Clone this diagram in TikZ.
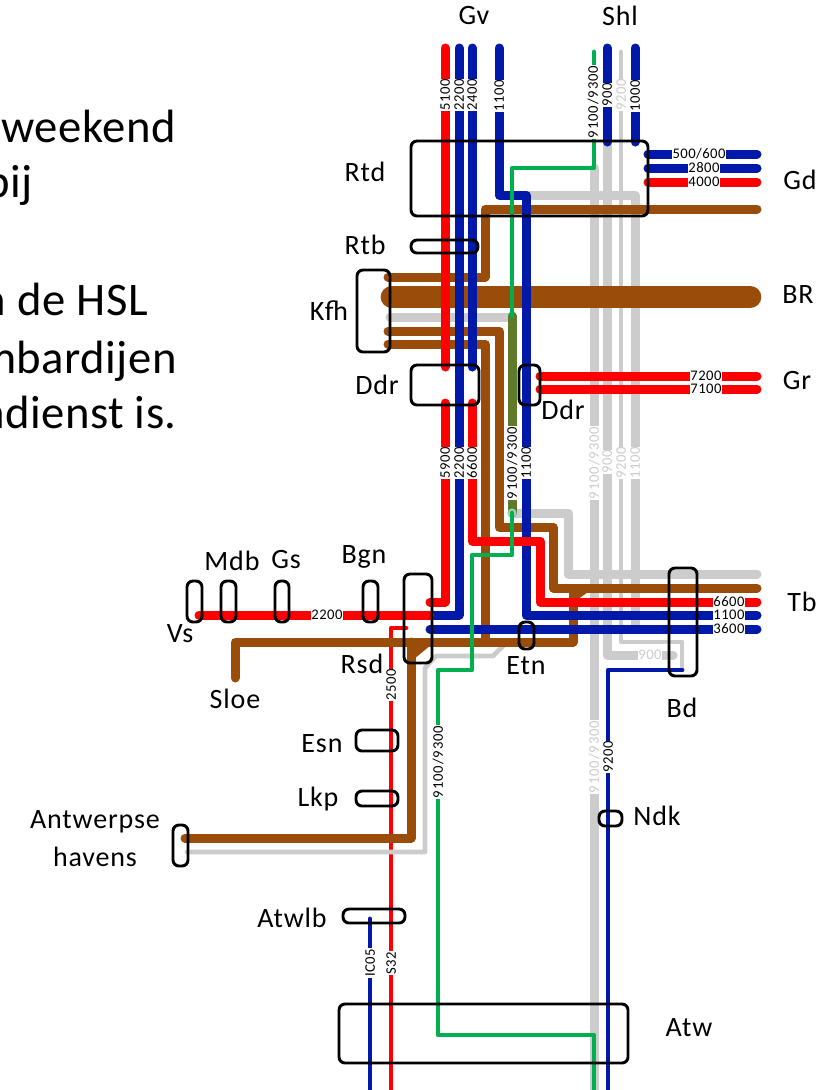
\documentclass[tikz,border=0pt]{standalone}
\usepackage{fontspec}
\setmainfont{Carlito}
\newfontfamily\labfont[LetterSpace=3]{Carlito}
\newfontfamily\labwidefont[LetterSpace=6]{Carlito}
\newfontfamily\namefont[LetterSpace=3]{Carlito}
\newfontfamily\sidefont[LetterSpace=1]{Carlito}
\definecolor{tred}{HTML}{FF0000}
\definecolor{tblue}{HTML}{0019A8}
\definecolor{tbrown}{HTML}{9A4D0B}
\definecolor{tgrey}{HTML}{CCCCCC}
\definecolor{tgreen}{HTML}{00B050}
\definecolor{tolive}{HTML}{5F7A2B}
\tikzset{
  route/.style={line width=6.75pt,line cap=round,line join=round},
  thinroute/.style={line width=3.6pt,line cap=round,line join=round},
  redr/.style={route,draw=tred},
  bluer/.style={route,draw=tblue},
  brownr/.style={route,draw=tbrown},
  greyr/.style={route,draw=tgrey},
  station/.style={draw=black,line width=2.2pt,rounded corners=4.5pt,fill=none,inner sep=0pt},
  bigtxt/.style={font=\namefont\fontsize{21}{21}\selectfont,inner sep=0pt},
  sidetxt/.style={font=\sidefont\fontsize{35}{35}\selectfont,inner sep=0pt,anchor=base east},
  vlab/.style={rotate=90,fill=white,inner xsep=0.6pt,inner ysep=0pt,text height=7.6pt,text depth=0.4pt,minimum height=8pt,font=\labfont\fontsize{11}{11}\selectfont},
  vwide/.style={vlab,font=\labwidefont\fontsize{11}{11}\selectfont},
  hlab/.style={fill=white,inner xsep=0.6pt,inner ysep=0pt,text height=7.6pt,text depth=0.4pt,minimum height=8pt,font=\labfont\fontsize{11}{11}\selectfont},
  glab/.style={text=tgrey},
}
\newcommand{\stationbox}[5]{\node[station,minimum width=#4*0.75pt,minimum height=#5*0.75pt] (#1) at (#2,#3) {};}
\begin{document}
\begin{tikzpicture}[x=0.75pt,y=-0.75pt]
\useasboundingbox (0,0) rectangle (838,1090);
% thin red S32, under everything
\draw[thinroute,draw=tred] (406,628) -- (391,628) -- (391,1094);
\draw[thinroute,draw=tblue] (370,919) -- (370,1094);
% grey routes
\draw[greyr] (594,168) -- (594,1094);
\draw[greyr] (607,142) -- (607,655) -- (673,655);
\draw[thinroute,draw=tgrey] (621,52) -- (621,642) -- (682,642) -- (682,670);
\draw[greyr] (526,195) -- (635,195) -- (635,629);
\draw[greyr] (390,317) -- (512,317);
\draw[greyr] (512,513) -- (568,513) -- (568,574) -- (757,574);
\draw[thinroute,draw=tgrey] (506,643) -- (493,656) -- (436,656) -- (425,668) -- (425,852) -- (187,852);
% brown routes
\draw[line width=17pt,line cap=round,draw=tbrown] (392,297) -- (750,297);
\draw[brownr] (757,209) -- (485,209) -- (485,277) -- (388,277);
\draw[brownr] (388,331) -- (499,331) -- (499,527) -- (553,527) -- (553,588) -- (757,588);
\draw[brownr] (388,344) -- (485,344) -- (485,642);
\draw[brownr] (235,678) -- (235,642) -- (573,642) -- (573,592);
\draw[brownr] (411,642) -- (411,838) -- (185,838);
\fill[tbrown] (577,592) -- (588,592) -- (577,600) -- cycle;
\fill[tbrown] (414,645) -- (431,645) -- (414,659) -- cycle;
% olive
\draw[route,draw=tolive] (512,316) -- (512,513);
\fill[tgrey!60!tgreen!70!white] (512,513) circle[radius=3.4pt];
% blue
\draw[bluer] (459,48) -- (459,615) -- (430,615);
\draw[bluer] (472,48) -- (472,367);
\draw[bluer] (499,48) -- (499,195) -- (526,195) -- (526,615) -- (757,615);
\draw[bluer] (607,48) -- (607,142);
\draw[bluer] (635,48) -- (635,142);
\draw[bluer] (430,629) -- (757,629);
\draw[bluer] (648,154) -- (757,154);
\draw[bluer] (648,168) -- (757,168);
\draw[thinroute,draw=tblue] (682,670) -- (608,670) -- (608,1094);
% red
\draw[redr] (445,48) -- (445,367);
\draw[redr] (445,403) -- (445,602) -- (430,602);
\draw[redr] (199,615) -- (430,615);
\draw[redr] (472,403) -- (472,541) -- (540,541) -- (540,602) -- (757,602);
\draw[redr] (648,182) -- (757,182);
\draw[redr] (540,376) -- (757,376);
\draw[redr] (540,389) -- (757,389);
% green
\draw[thinroute,draw=tgreen] (594,52) -- (594,168) -- (512,168) -- (512,316);
\draw[thinroute,draw=tgreen] (512,513) -- (512,555) -- (472,555) -- (472,670) -- (438,670) -- (438,1035) -- (594,1035) -- (594,1094);
% line labels
\node[vlab] (l5100) at (445,95) {5100};
\node[vlab] (l2200a) at (459,95) {2200};
\node[vlab] (l2400) at (472,95) {2400};
\node[vlab] (l1100a) at (499,96) {1100};
\node[vwide] (l9193a) at (593,102) {9100/9300};
\node[vlab] (l900a) at (607,95) {900};
\node[vlab,glab] (l9200a) at (621,95) {9200};
\node[vlab] (l1000) at (635,96) {1000};
\node[hlab] (l500) at (699,154) {500/600};
\node[hlab] (l2800) at (704,168) {2800};
\node[hlab] (l4000) at (704,182) {4000};
\node[hlab] (l7200) at (706,376) {7200};
\node[hlab] (l7100) at (706,389) {7100};
\node[vlab] (l5900) at (445,463) {5900};
\node[vlab] (l2200b) at (459,463) {2200};
\node[vlab] (l6600a) at (472,463) {6600};
\node[vwide] (l9193b) at (512,463) {9100/9300};
\node[vlab] (l1100b) at (526,463) {1100};
\node[vwide,glab] (l9193c) at (594,463) {9100/9300};
\node[vlab,glab] (l900b) at (607,462) {900};
\node[vlab,glab] (l9200b) at (621,463) {9200};
\node[vlab,glab] (l1100c) at (635,463) {1100};
\node[hlab] (l2200c) at (327,615) {2200};
\node[hlab] (l6600b) at (729,602) {6600};
\node[hlab] (l1100d) at (729,615) {1100};
\node[hlab] (l3600) at (729,629) {3600};
\node[hlab,glab] (l900c) at (650,655) {900};
\node[vlab] (l2500) at (391,685) {2500};
\node[vwide] (l9193d) at (438,762) {9100/9300};
\node[vlab] (l9200c) at (608,757) {9200};
\node[vwide,glab] (l9193e) at (594,757) {9100/9300};
\node[vlab] (lic) at (370,963) {IC05};
\node[vlab] (ls32) at (391,963) {S32};
% station boxes
\stationbox{bRtd}{529.5}{178.5}{237}{75}
\stationbox{bRtb}{444.5}{246.5}{67}{13}
\stationbox{bKfh}{373.5}{311}{33}{82}
\stationbox{bDdra}{445}{385}{68}{40}
\stationbox{bDdrb}{529.5}{385}{21}{40}
\stationbox{bVs}{194.5}{601.5}{15}{41}
\stationbox{bMdb}{228.5}{601.5}{15}{41}
\stationbox{bGs}{282}{601.5}{14}{41}
\stationbox{bBgn}{370.5}{601.5}{15}{41}
\stationbox{bRsd}{418}{618.5}{28}{89}
\stationbox{bEtn}{526.5}{635.5}{15}{27}
\stationbox{bBd}{683}{622}{28}{108}
\stationbox{bEsn}{377}{740.5}{42}{21}
\stationbox{bLkp}{377}{798.5}{42}{15}
\stationbox{bAnt}{180.5}{845.5}{15}{41}
\stationbox{bAtwlb}{374}{916}{62}{14}
\stationbox{bAtw}{483.5}{1033.5}{289}{59}
\stationbox{bNdk}{610.5}{818.5}{23}{15}
% place names
\node[bigtxt] (tGv) at (474,16) {Gv};
\node[bigtxt] (tShl) at (620,16) {Shl};
\node[bigtxt] (tRtd) at (365,172) {Rtd};
\node[bigtxt] (tRtb) at (365,245) {Rtb};
\node[bigtxt] (tKfh) at (329,311) {Kfh};
\node[bigtxt] (tDdra) at (377,385) {Ddr};
\node[bigtxt] (tDdrb) at (563,410) {Ddr};
\node[bigtxt] (tGd) at (800,180) {Gd};
\node[bigtxt] (tBR) at (798,295) {BR};
\node[bigtxt] (tGr) at (797,381) {Gr};
\node[bigtxt] (tTb) at (802,602) {Tb};
\node[bigtxt] (tBd) at (682,708) {Bd};
\node[bigtxt] (tEtn) at (526,666) {Etn};
\node[bigtxt] (tRsd) at (362,664) {Rsd};
\node[bigtxt] (tBgn) at (364,557) {Bgn};
\node[bigtxt] (tMdb) at (232,561) {Mdb};
\node[bigtxt] (tGs) at (286,560) {Gs};
\node[bigtxt] (tVs) at (180,634) {Vs};
\node[bigtxt] (tSloe) at (235,699) {Sloe};
\node[bigtxt] (tEsn) at (322,744) {Esn};
\node[bigtxt] (tLkp) at (318,799) {Lkp};
\node[bigtxt] (tAnta) at (95,822) {Antwerpse};
\node[bigtxt] (tAntb) at (95,857) {havens};
\node[bigtxt] (tAtwlb) at (292,918) {Atwlb};
\node[bigtxt] (tNdk) at (657,816) {Ndk};
\node[bigtxt] (tAtw) at (689,1028) {Atw};
% side text, cut off at the left edge
\node[sidetxt] (s1) at (176,142) {weekend};
\node[sidetxt] (s2) at (33,197) {bij};
\node[sidetxt] (s3) at (148,315) {n de HSL};
\node[sidetxt] (s4) at (177,373) {mbardijen};
\node[sidetxt] (s5) at (177,428) {ndienst is.};
\end{tikzpicture}
\end{document}
